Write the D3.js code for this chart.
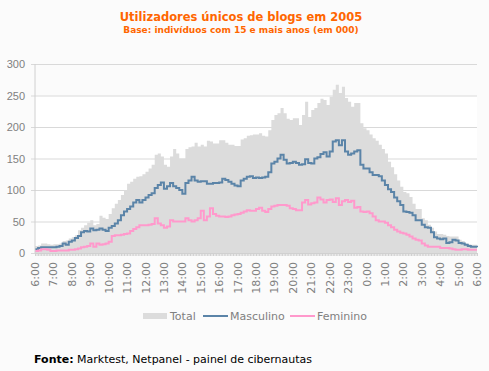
<!DOCTYPE html>
<html>
<head>
<meta charset="utf-8">
<script src="https://cdn.jsdelivr.net/npm/d3@7"></script>
<style>
  body { margin: 0; background: #fbfbfb; }
  svg { display: block; font-family: "DejaVu Sans", Verdana, sans-serif; }
</style>
</head>
<body>
<svg id="chart"></svg>
<script>
// values every 10 minutes from 6:00 to 6:00 (in thousands)
let hourLabels = ["6:00","7:00","8:00","9:00","10:00","11:00","12:00","13:00","14:00","15:00",
                  "16:00","17:00","18:00","19:00","20:00","21:00","22:00","23:00","0:00","1:00",
                  "2:00","3:00","4:00","5:00","6:00"]
let yTicks = [0, 50, 100, 150, 200, 250, 300]

let total = [
  11, 12, 15, 15, 14, 13,   14, 14, 15, 19, 20, 23,   25, 28, 36, 40, 44, 48,
  52, 44, 46, 59, 56, 54,   62, 71, 78, 84, 92, 100,  110, 113, 118, 121, 122, 125,
  129, 134, 140, 156, 158, 153,  140, 137, 153, 165, 158, 150,  150, 165, 168, 169, 175, 169,
  172, 169, 178, 177, 174, 174,  179, 179, 175, 172, 172, 170,  170, 180, 182, 186, 187, 188,
  188, 190, 186, 185, 195, 211,  219, 222, 230, 222, 213, 211,  214, 214, 203, 219, 240, 216,
  227, 230, 238, 245, 243, 235,  248, 259, 267, 254, 264, 246,  240, 232, 238, 238, 206, 198,
  195, 188, 182, 178, 172, 165,  158, 145, 136, 125, 115, 105,  97, 95, 89, 78, 70, 70,
  55, 52, 45, 40, 34, 30,   30, 29, 27, 26, 26, 26,   21, 19, 15, 14, 13, 13,
  12
]
let masculino = [
  6, 8, 9, 9, 9, 9,   9, 10, 11, 15, 13, 18,   20, 24, 27, 33, 35, 34,
  39, 36, 37, 39, 37, 35,   40, 43, 47, 52, 60, 66,   70, 74, 80, 84, 80, 84,
  88, 92, 95, 103, 108, 112,  102, 106, 111, 106, 103, 100,  94, 111, 115, 121, 115, 113,
  114, 114, 110, 110, 111, 111,  112, 118, 116, 113, 110, 107,  106, 115, 118, 121, 122, 119,
  120, 119, 120, 121, 128, 142,  145, 150, 156, 148, 142, 143,  145, 143, 140, 141, 149, 143,
  142, 150, 152, 157, 160, 153,  161, 177, 179, 171, 179, 161,  156, 158, 161, 163, 140, 134,
  134, 128, 124, 124, 122, 115,  108, 101, 97, 88, 82, 76,   66, 65, 64, 60, 52, 52,
  45, 41, 40, 33, 25, 23,   22, 23, 16, 17, 21, 20,   16, 15, 13, 11, 10, 10,
  9
]
let feminino = [
  3, 4, 6, 6, 5, 3,   3, 4, 4, 4, 4, 5,   5, 6, 7, 9, 10, 11,
  15, 10, 15, 13, 14, 15,   18, 27, 28, 28, 29, 30,   31, 35, 38, 41, 44, 44,
  44, 45, 46, 55, 47, 44,   40, 42, 52, 50, 50, 50,   50, 55, 52, 50, 52, 55,
  67, 52, 58, 71, 62, 59,   58, 58, 57, 58, 60, 61,   62, 64, 66, 68, 67, 67,
  70, 72, 67, 65, 70, 74,   75, 76, 76, 76, 75, 71,   70, 68, 68, 80, 84, 77,
  79, 80, 88, 85, 80, 84,   85, 81, 87, 76, 82, 84,   81, 83, 72, 73, 66, 65,
  66, 63, 58, 52, 50, 50,   48, 44, 41, 37, 34, 32,   31, 29, 26, 23, 21, 20,
  15, 12, 10, 10, 10, 10,   8, 8, 8, 7, 6, 5,   5, 6, 6, 5, 5, 5,
  5
]

let width = 489
let height = 371
let svg = d3.select("#chart").attr("width", width).attr("height", height)

let X = d3.scaleLinear().domain([0, 24]).range([35, 477])
let Y = d3.scaleLinear().domain([0, 300]).range([253, 64])

// plot background
svg.append("rect")
   .attr("x", X(0)).attr("y", Y(250))
   .attr("width", X(24) - X(0)).attr("height", Y(0) - Y(250))
   .attr("fill", "#ffffff")

// grid lines + y labels
let yaxis = d3.axisLeft(Y).tickValues(yTicks).tickSize(-(X(24) - X(0) + 4)).tickPadding(6)
svg.append("g")
   .attr("transform", "translate(" + (X(0) - 4) + ",0)")
   .call(yaxis)
   .call(g => g.select(".domain").remove())
   .call(g => g.selectAll(".tick line").attr("stroke", "#d9d9d9"))
   .call(g => g.selectAll(".tick text").attr("fill", "#808080").style("font-size", "11px"))

let pts = d => d.map((v, i) => [i / 6, v])

// total area
let area = d3.area()
             .curve(d3.curveStepAfter)
             .x(d => X(d[0]))
             .y0(Y(0))
             .y1(d => Y(d[1]))
svg.append("path")
   .attr("fill", "#dcdcdc")
   .attr("d", area(pts(total)))

let line = d3.line()
             .curve(d3.curveStepAfter)
             .x(d => X(d[0]))
             .y(d => Y(d[1]))

svg.append("path")
   .attr("fill", "none")
   .attr("stroke", "#5b84a8")
   .attr("stroke-width", 2)
   .attr("d", line(pts(masculino)))

svg.append("path")
   .attr("fill", "none")
   .attr("stroke", "#ff99cc")
   .attr("stroke-width", 2)
   .attr("d", line(pts(feminino)))

// left axis line
svg.append("line")
   .attr("x1", X(0)).attr("x2", X(0))
   .attr("y1", Y(300)).attr("y2", Y(0))
   .attr("stroke", "#d0d0d0")

// x axis: minor ticks every 5 min
let minor = d3.range(0, 24 * 12 + 1).map(i => i / 12)
let xaxis = d3.axisBottom(X).tickValues(minor).tickSize(3).tickFormat("")
svg.append("g")
   .attr("transform", "translate(0," + Y(0) + ")")
   .call(xaxis)
   .call(g => g.select(".domain").attr("stroke", "#d0d0d0"))
   .call(g => g.selectAll(".tick line").attr("stroke", "#d0d0d0"))

svg.append("g")
   .selectAll("text")
   .data(hourLabels)
   .enter()
   .append("text")
   .attr("transform", (d, i) => "translate(" + (X(i) + 4) + ",262) rotate(-90)")
   .attr("text-anchor", "end")
   .attr("fill", "#808080")
   .style("font-size", "11px")
   .text(d => d)

// title
svg.append("text")
   .attr("x", 241).attr("y", 21)
   .attr("text-anchor", "middle")
   .attr("fill", "#ff6600")
   .style("font-size", "11.5px").style("font-weight", "bold")
   .text("Utilizadores únicos de blogs em 2005")
svg.append("text")
   .attr("x", 241).attr("y", 33)
   .attr("text-anchor", "middle")
   .attr("fill", "#ff6600")
   .style("font-size", "9px").style("font-weight", "bold")
   .text("Base: indivíduos com 15 e mais anos (em 000)")

// legend
let legend = svg.append("g").style("font-size", "11px").attr("fill", "#808080")
legend.append("rect").attr("x", 143).attr("y", 313).attr("width", 24).attr("height", 6).attr("fill", "#dcdcdc")
legend.append("text").attr("x", 170).attr("y", 320).text("Total")
legend.append("line").attr("x1", 203).attr("x2", 228).attr("y1", 316).attr("y2", 316)
      .attr("stroke", "#5b84a8").attr("stroke-width", 2)
legend.append("text").attr("x", 230).attr("y", 320).text("Masculino")
legend.append("line").attr("x1", 290).attr("x2", 315).attr("y1", 316).attr("y2", 316)
      .attr("stroke", "#ff99cc").attr("stroke-width", 2)
legend.append("text").attr("x", 317).attr("y", 320).text("Feminino")

// source
let src = svg.append("text").attr("x", 34).attr("y", 363).attr("fill", "#000").style("font-size", "11px")
src.append("tspan").style("font-weight", "bold").text("Fonte:")
src.append("tspan").text(" Marktest, Netpanel - painel de cibernautas")
</script>
</body>
</html>
